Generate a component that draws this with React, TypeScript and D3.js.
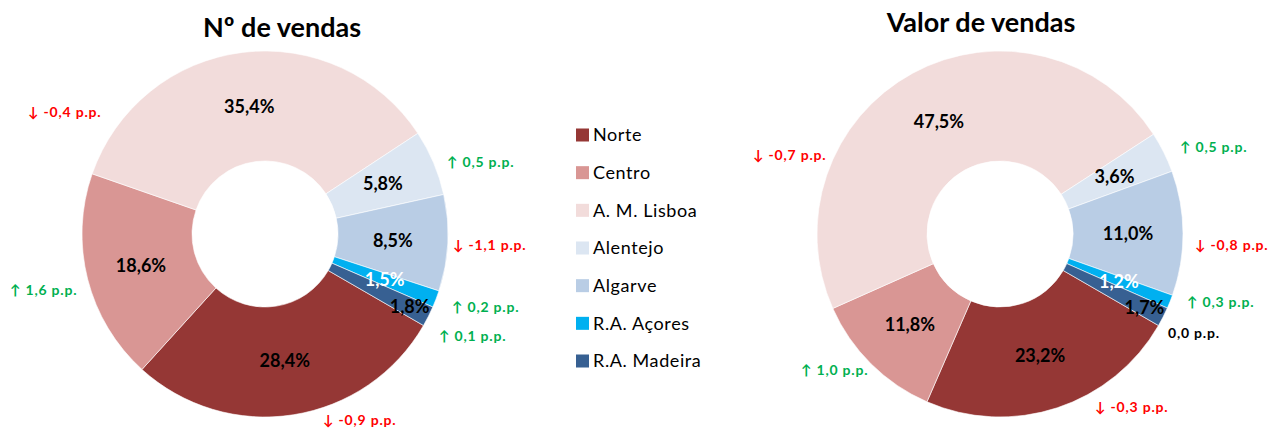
import * as d3 from "d3";
import React from "react";

// regiões (ordem das fatias, no sentido horário)
const regions = ["Norte", "Centro", "A. M. Lisboa", "Alentejo", "Algarve", "R.A. Açores", "R.A. Madeira"];
const colors = ["#953735", "#D99694", "#F2DCDB", "#DCE6F2", "#B9CDE5", "#00B0F0", "#376092"];

// quotas em %
const countShares = [28.4, 18.6, 35.4, 5.8, 8.5, 1.5, 1.8];
const valueShares = [23.2, 11.8, 47.5, 3.6, 11.0, 1.2, 1.7];

// variação face ao período anterior (p.p.)
const countChanges = [-0.9, 1.6, -0.4, 0.5, -1.1, 0.2, 0.1];
const valueChanges = [-0.3, 1.0, -0.7, 0.5, -0.8, 0.3, 0.0];

const titles = ["Nº de vendas", "Valor de vendas"];

const W = 1271;
const H = 428;
const FONT = "Lato, 'Open Sans', sans-serif";

const outerR = 183;
const innerR = 73;
const startDeg = 120;

// posição (x esquerdo, y central) das anotações relativamente ao centro do donut
const countNoteOffsets = [[58, 186], [-255, 56], [-237, -122], [182, -72], [188, 11], [187, 73], [174, 102]];
const valueNoteOffsets = [[95, 173], [-199, 136], [-247, -79], [180, -87], [195, 11], [187, 68], [168, 99]];

const fmt = (v: number) => v.toFixed(1).replace(".", ",");

const noteText = (v: number) => {
	if (v > 0) return `\u2191 ${fmt(v)} p.p.`;
	if (v < 0) return `\u2193 ${fmt(v)} p.p.`;
	return `${fmt(v)} p.p.`;
};
const noteColor = (v: number) => (v > 0 ? "#00B050" : v < 0 ? "#FF0000" : "#000000");

const Donut = ({ cx, cy, values, changes, offsets, title, titleX, titleY }: any) => {
	const pie = d3.pie<number>()
		.sort(null)
		.value(d => d)
		.startAngle((startDeg * Math.PI) / 180)
		.endAngle(((startDeg + 360) * Math.PI) / 180);
	const arcs = pie(values);
	const arc = d3.arc<d3.PieArcDatum<number>>().innerRadius(innerR).outerRadius(outerR);
	const mid = (innerR + outerR) / 2;

	return (
		<g>
			<text x={titleX} y={titleY} textAnchor="middle" fontFamily={FONT} fontWeight="bold" fontSize={27} fill="#000">
				{title}
			</text>
			<g transform={`translate(${cx},${cy})`}>
				{arcs.map((a, i) => (
					<path key={i} d={arc(a) || ""} fill={colors[i]} stroke="#fff" strokeWidth={0.6} />
				))}
				{arcs.map((a, i) => {
					// a fatia da Madeira tem o rótulo empurrado para fora
					const r = i === regions.length - 1 ? 162 : mid;
					const ang = (a.startAngle + a.endAngle) / 2;
					const x = r * Math.sin(ang);
					const y = -r * Math.cos(ang);
					return (
						<text key={i} x={x} y={y} dy="0.35em" textAnchor="middle" fontFamily={FONT}
							fontWeight="bold" fontSize={18} fill={i === 5 ? "#fff" : "#000"}>
							{fmt(values[i])}%
						</text>
					);
				})}
				{changes.map((v: number, i: number) => (
					<text key={i} x={offsets[i][0]} y={offsets[i][1]} dy="0.35em" fontFamily={FONT}
						fontWeight="bold" fontSize={14} letterSpacing={0.8} fill={noteColor(v)}>
						{noteText(v)}
					</text>
				))}
			</g>
		</g>
	);
};

const App = () => {
	const legendY = d3.scalePoint<string>().domain(regions).range([135, 361]);

	return (
		<svg width={W} height={H} style={{ position: "absolute", left: 0, top: 0, background: "#fff" }}>
			<Donut cx={265} cy={234} values={countShares} changes={countChanges} offsets={countNoteOffsets}
				title={titles[0]} titleX={282} titleY={37} />
			<Donut cx={1000} cy={234} values={valueShares} changes={valueChanges} offsets={valueNoteOffsets}
				title={titles[1]} titleX={981} titleY={32} />
			<g>
				{regions.map((r, i) => (
					<g key={r} transform={`translate(576,${legendY(r)})`}>
						<rect x={0} y={-6.5} width={13} height={13} fill={colors[i]} />
						<text x={17} y={0} dy="0.35em" fontFamily={FONT} fontSize={18} letterSpacing={0.6} fill="#000">{r}</text>
					</g>
				))}
			</g>
		</svg>
	);
};

export default App;
